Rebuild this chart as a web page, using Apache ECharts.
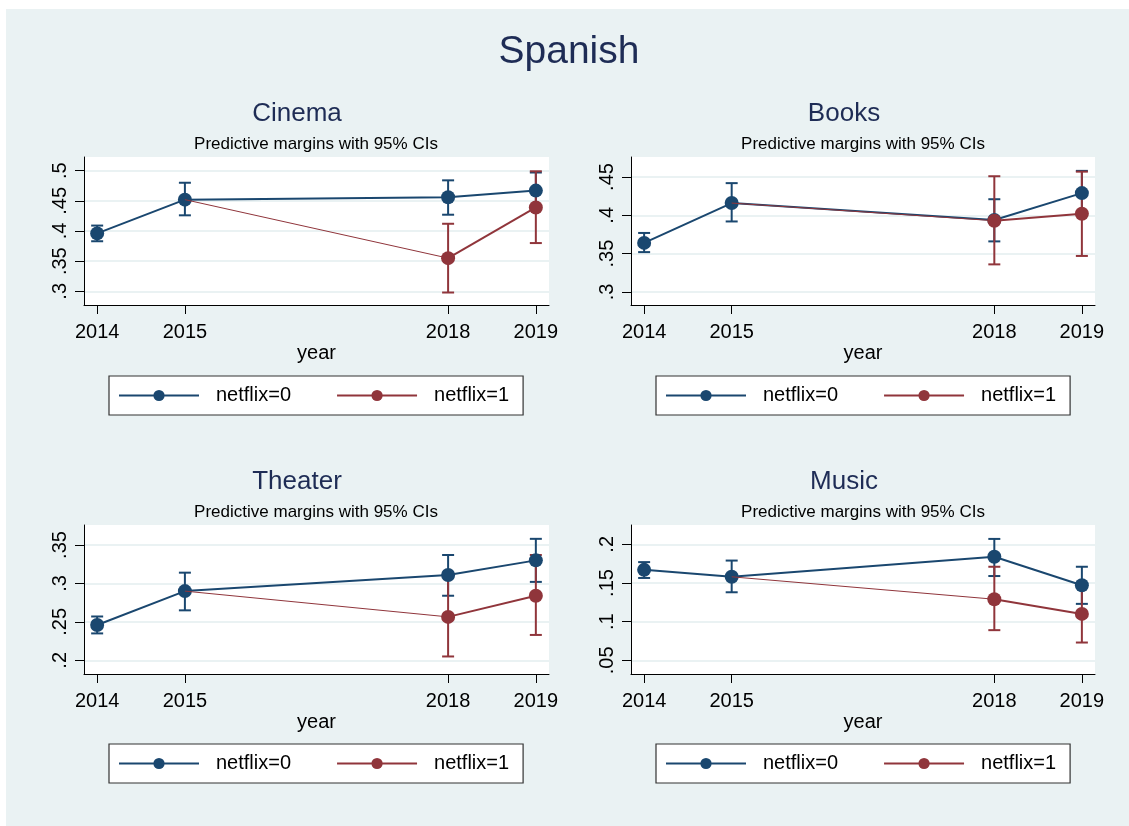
<!DOCTYPE html>
<html>
<head>
<meta charset="utf-8">
<title>Spanish</title>
<script src="https://cdn.jsdelivr.net/npm/echarts@6/dist/echarts.min.js"></script>
<style>
  html, body { margin: 0; padding: 0; background: #ffffff; }
  #bg { position: absolute; left: 6px; top: 9px; width: 1123px; height: 817px; background: #eaf2f3; }
  #chart { position: absolute; left: 0; top: 0; width: 1129px; height: 826px; }
</style>
</head>
<body>
<div id="bg"></div>
<div id="chart"></div>
<script>
// Survey years and the years with a netflix=1 estimate
const years = [2014, 2015, 2018, 2019];
const netflixYears = [2018, 2019];
const yearTicks = [2014, 2015, 2018, 2019];

// Predictive margins (mean, lower and upper 95% bound)
const cinemaMean0 = [0.396, 0.452, 0.456, 0.467];
const cinemaLo0   = [0.383, 0.426, 0.427, 0.438];
const cinemaHi0   = [0.409, 0.480, 0.484, 0.497];
const cinemaMean1 = [0.355, 0.439];
const cinemaLo1   = [0.298, 0.380];
const cinemaHi1   = [0.412, 0.499];
const cinemaTicks = [0.3, 0.35, 0.4, 0.45, 0.5];

const booksMean0 = [0.364, 0.416, 0.394, 0.429];
const booksLo0   = [0.352, 0.392, 0.366, 0.401];
const booksHi0   = [0.377, 0.442, 0.421, 0.458];
const booksMean1 = [0.393, 0.402];
const booksLo1   = [0.336, 0.347];
const booksHi1   = [0.451, 0.457];
const booksTicks = [0.3, 0.35, 0.4, 0.45];

const theaterMean0 = [0.246, 0.290, 0.311, 0.330];
const theaterLo0   = [0.235, 0.265, 0.284, 0.302];
const theaterHi0   = [0.257, 0.314, 0.337, 0.358];
const theaterMean1 = [0.2565, 0.284];
const theaterLo1   = [0.205, 0.233];
const theaterHi1   = [0.309, 0.337];
const theaterTicks = [0.2, 0.25, 0.3, 0.35];

const musicMean0 = [0.167, 0.158, 0.184, 0.147];
const musicLo0   = [0.1565, 0.138, 0.159, 0.123];
const musicHi0   = [0.177, 0.179, 0.207, 0.171];
const musicMean1 = [0.129, 0.110];
const musicLo1   = [0.089, 0.073];
const musicHi1   = [0.171, 0.146];
const musicTicks = [0.05, 0.1, 0.15, 0.2];

const FONT = '"Liberation Sans", Arial, Helvetica, sans-serif';
const BLUE = '#1a476f';
const RED = '#90353b';
const TITLE_COLOR = '#1e2c55';

const panels = [
  { title: 'Cinema',  m0: cinemaMean0,  lo0: cinemaLo0,  hi0: cinemaHi0,  m1: cinemaMean1,  lo1: cinemaLo1,  hi1: cinemaHi1,  ticks: cinemaTicks,
    ymin: 0.2773, ymax: 0.5227, left: 84,  top: 157, width: 465, height: 148 },
  { title: 'Books',   m0: booksMean0,   lo0: booksLo0,   hi0: booksHi0,   m1: booksMean1,   lo1: booksLo1,   hi1: booksHi1,   ticks: booksTicks,
    ymin: 0.2830, ymax: 0.4761, left: 631, top: 157, width: 464, height: 148 },
  { title: 'Theater', m0: theaterMean0, lo0: theaterLo0, hi0: theaterHi0, m1: theaterMean1, lo1: theaterLo1, hi1: theaterHi1, ticks: theaterTicks,
    ymin: 0.1822, ymax: 0.3760, left: 84,  top: 525, width: 465, height: 149 },
  { title: 'Music',   m0: musicMean0,   lo0: musicLo0,   hi0: musicHi0,   m1: musicMean1,   lo1: musicLo1,   hi1: musicHi1,   ticks: musicTicks,
    ymin: 0.0323, ymax: 0.2250, left: 631, top: 525, width: 464, height: 149 }
];

// Vertical capped interval drawn from [x, low, high]
function renderCap(params, api) {
  const x = api.value(0);
  const lo = api.coord([x, api.value(1)]);
  const hi = api.coord([x, api.value(2)]);
  const w = 6;
  const style = { stroke: api.visual('color'), lineWidth: 2, fill: null };
  return {
    type: 'group',
    children: [
      { type: 'line', shape: { x1: lo[0], y1: lo[1], x2: hi[0], y2: hi[1] }, style: style },
      { type: 'line', shape: { x1: lo[0] - w, y1: lo[1], x2: lo[0] + w, y2: lo[1] }, style: style },
      { type: 'line', shape: { x1: hi[0] - w, y1: hi[1], x2: hi[0] + w, y2: hi[1] }, style: style }
    ]
  };
}

function fmtTick(v) {
  return String(+(+v).toFixed(3)).replace(/^0\./, '.');
}

const grids = [], xAxes = [], yAxes = [], series = [], legends = [], graphics = [];

graphics.push({
  type: 'text', x: 569, y: 52, silent: true,
  style: { text: 'Spanish', font: '39px ' + FONT, fill: TITLE_COLOR, align: 'center', verticalAlign: 'middle' }
});

panels.forEach(function (p, i) {
  const dx = p.left - 84;
  const dy = p.top - 157;
  grids.push({ left: p.left, top: p.top, width: p.width, height: p.height,
    show: true, backgroundColor: '#ffffff', borderWidth: 0, containLabel: false });

  xAxes.push({
    type: 'value', gridIndex: i, min: 2013.85, max: 2019.15,
    name: 'year', nameLocation: 'middle', nameGap: 38,
    nameTextStyle: { fontFamily: FONT, fontSize: 20, color: '#000' },
    axisLine: { show: true, onZero: false, lineStyle: { color: '#000', width: 1 } },
    axisTick: { show: true, length: 9, customValues: yearTicks, lineStyle: { color: '#000', width: 1 } },
    axisLabel: { show: true, customValues: yearTicks, margin: 17, fontFamily: FONT, fontSize: 20, color: '#000',
      formatter: function (v) { return String(v); } },
    splitLine: { show: false }
  });

  yAxes.push({
    type: 'value', gridIndex: i, min: p.ymin, max: p.ymax,
    axisLine: { show: true, onZero: false, lineStyle: { color: '#000', width: 1 } },
    axisTick: { show: true, length: 9, customValues: p.ticks, lineStyle: { color: '#000', width: 1 } },
    axisLabel: { show: true, customValues: p.ticks, rotate: 90, margin: 14, fontFamily: FONT, fontSize: 20, color: '#000',
      formatter: fmtTick },
    splitLine: { show: true, lineStyle: { color: '#eaf2f3', width: 2 } }
  });

  const ci0 = years.map(function (y, k) { return [y, p.lo0[k], p.hi0[k]]; });
  const ci1 = netflixYears.map(function (y, k) { return [y, p.lo1[k], p.hi1[k]]; });
  const line0 = years.map(function (y, k) { return [y, p.m0[k]]; });
  const line1 = netflixYears.map(function (y, k) { return [y, p.m1[k]]; });
  // netflix=1 path starts from the shared 2015 estimate
  const k2015 = years.indexOf(2015);
  const link1 = [[2015, p.m0[k2015]], [netflixYears[0], p.m1[0]]];

  series.push({
    type: 'custom', name: 'CI netflix=0', xAxisIndex: i, yAxisIndex: i, z: 2,
    itemStyle: { color: BLUE }, renderItem: renderCap, data: ci0, encode: { x: 0, y: [1, 2] }, silent: true
  });
  series.push({
    type: 'custom', name: 'CI netflix=1', xAxisIndex: i, yAxisIndex: i, z: 2,
    itemStyle: { color: RED }, renderItem: renderCap, data: ci1, encode: { x: 0, y: [1, 2] }, silent: true
  });
  series.push({
    type: 'line', name: 'netflix=0', xAxisIndex: i, yAxisIndex: i, z: 3,
    data: line0, symbol: 'circle', symbolSize: 14, showAllSymbol: true,
    lineStyle: { color: BLUE, width: 2 }, itemStyle: { color: BLUE }, animation: false, silent: true
  });
  series.push({
    type: 'line', name: 'netflix=1 path', xAxisIndex: i, yAxisIndex: i, z: 4,
    data: link1, symbol: 'none', lineStyle: { color: RED, width: 1 }, itemStyle: { color: RED }, animation: false, silent: true
  });
  series.push({
    type: 'line', name: 'netflix=1', xAxisIndex: i, yAxisIndex: i, z: 5,
    data: line1, symbol: 'circle', symbolSize: 14, showAllSymbol: true,
    lineStyle: { color: RED, width: 2 }, itemStyle: { color: RED }, animation: false, silent: true
  });

  legends.push({
    data: ['netflix=0', 'netflix=1'],
    left: 109 + dx, top: 376 + dy,
    orient: 'horizontal',
    itemWidth: 80, itemHeight: 14, itemGap: 45,
    padding: [9.5, 14, 9.5, 9],
    backgroundColor: '#ffffff', borderColor: '#333', borderWidth: 1.2, borderRadius: 0,
    selectedMode: false,
    textStyle: { fontFamily: FONT, fontSize: 20, color: '#000', padding: [0, 0, 0, 12] }
  });

  graphics.push({
    type: 'text', x: 297 + dx, y: 114 + dy, silent: true,
    style: { text: p.title, font: '26px ' + FONT, fill: TITLE_COLOR, align: 'center', verticalAlign: 'middle' }
  });
  graphics.push({
    type: 'text', x: 316 + dx, y: 144.5 + dy, silent: true,
    style: { text: 'Predictive margins with 95% CIs', font: '17px ' + FONT, fill: '#000', align: 'center', verticalAlign: 'middle' }
  });
});

const chart = echarts.init(document.getElementById('chart'), null, { renderer: 'canvas' });
chart.setOption({
  backgroundColor: 'transparent',
  animation: false,
  textStyle: { fontFamily: FONT },
  grid: grids,
  xAxis: xAxes,
  yAxis: yAxes,
  legend: legends,
  graphic: graphics,
  series: series
});
</script>
</body>
</html>
